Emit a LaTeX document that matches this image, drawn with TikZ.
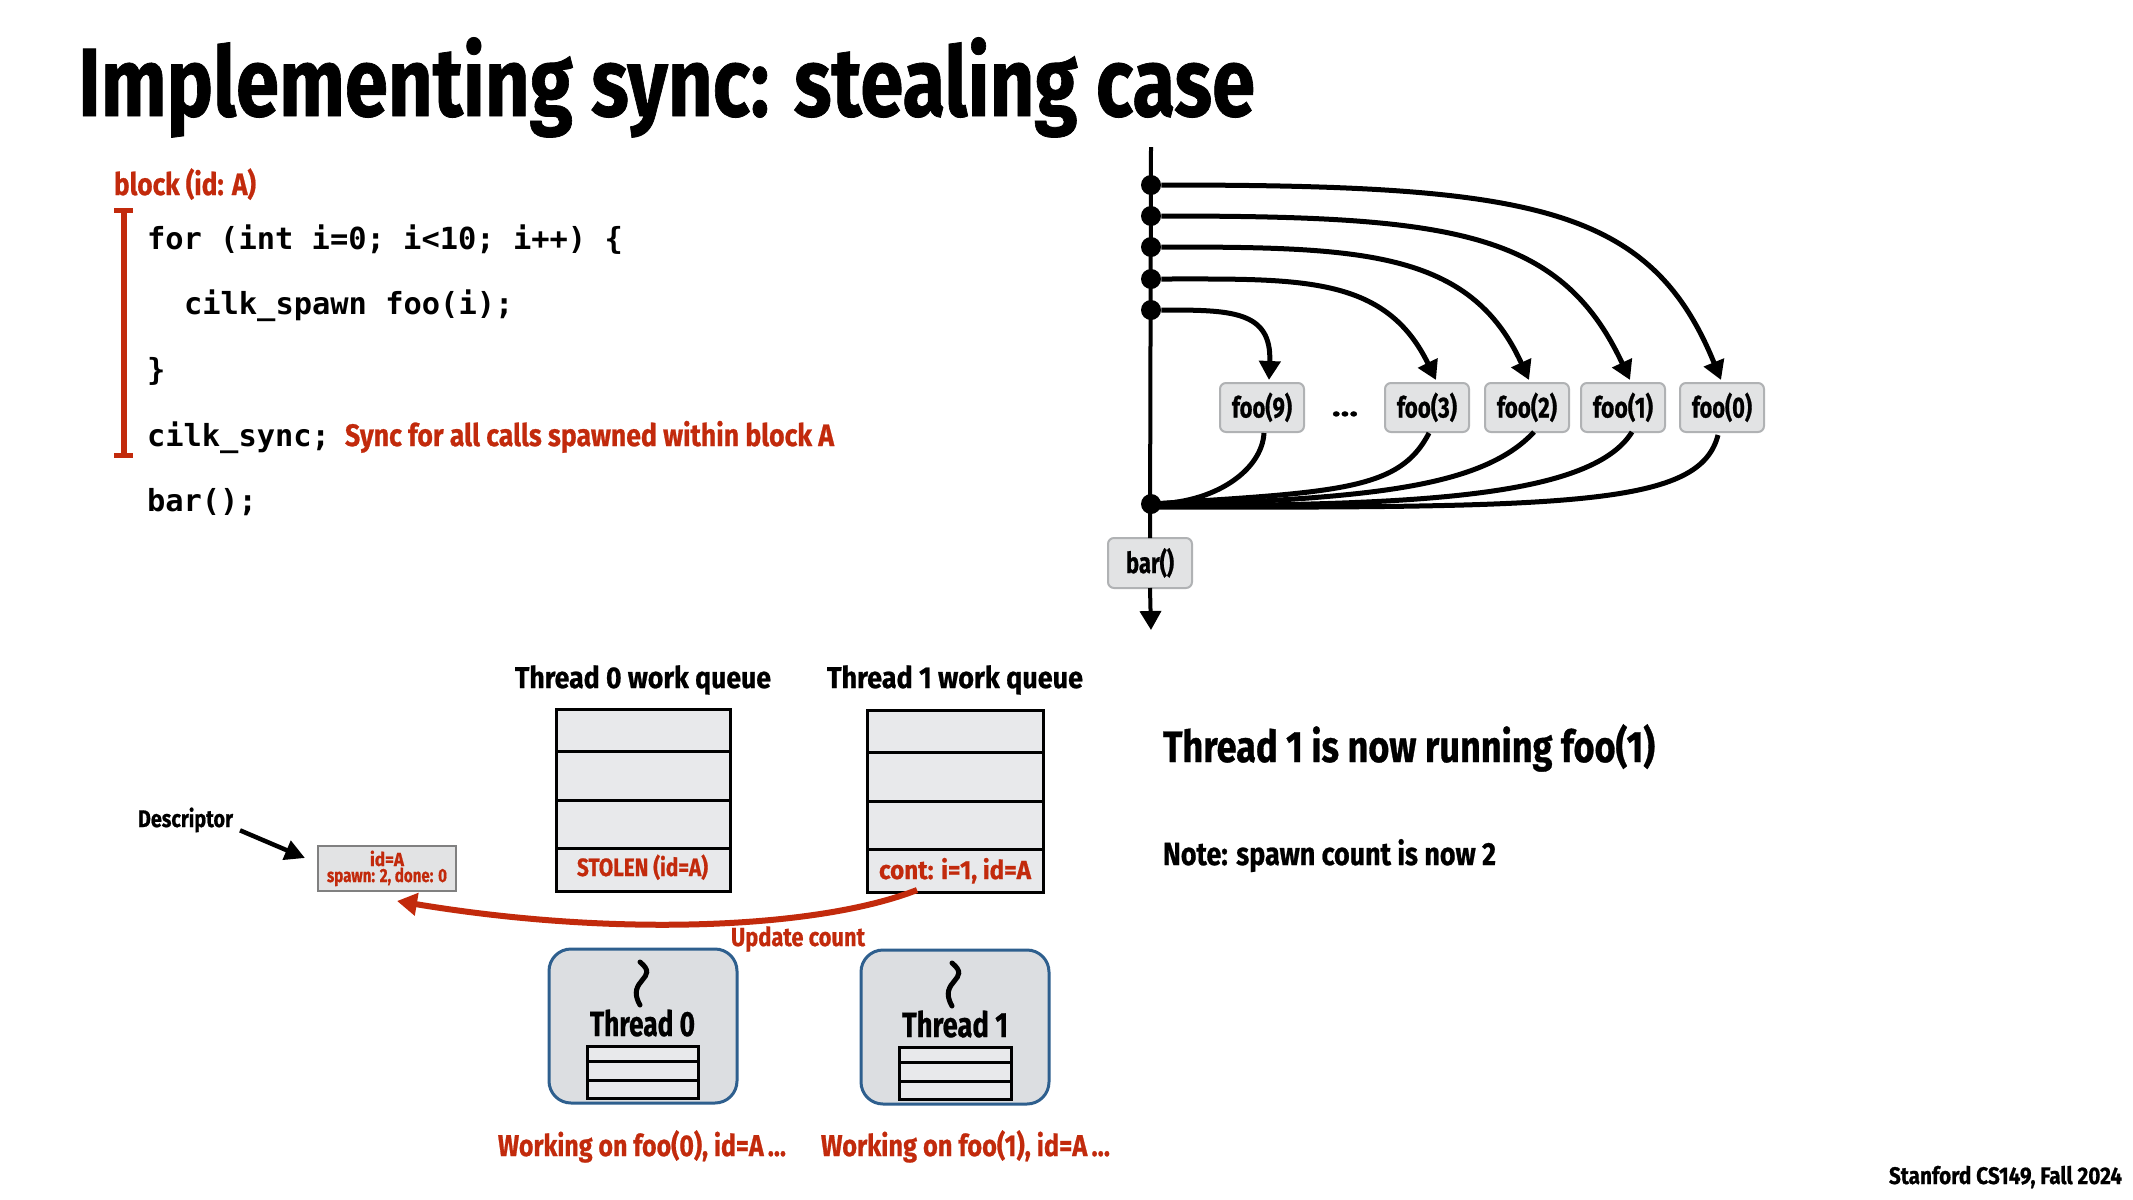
\documentclass[tikz,border=0pt]{standalone}
\usepackage{fontspec}
\usepackage{graphicx}
\setmainfont{Fira Sans}[BoldFont={Fira Sans Bold},BoldFeatures={FakeBold=0.8}]
\newfontfamily\codefont{DejaVu Sans Mono Bold}
\usetikzlibrary{arrows.meta}
\newdimen\pxu \pxu=0.5pt
% #1 target width in px, #2 font size in px, #3 text
\newcommand\fitw[3]{\resizebox{#1\pxu}{\height}{\fontsize{#2\pxu}{#2\pxu}\selectfont\bfseries #3}}
\definecolor{slidered}{HTML}{C22A0C}
\definecolor{qfill}{HTML}{E8E9EB}
\definecolor{tfill}{HTML}{DCDEE1}
\definecolor{tblue}{HTML}{2E5F8E}
\definecolor{boxfill}{HTML}{E2E3E4}
\definecolor{boxedge}{HTML}{B0B2B4}
\tikzset{
  txt/.style={anchor=base west,inner sep=0pt,outer sep=0pt},
  redtxt/.style={txt,text=slidered},
  ctxt/.style={anchor=base,inner sep=0pt,outer sep=0pt},
  code/.style={txt,font=\codefont\fontsize{15.2pt}{15.2pt}\selectfont},
  dot/.style={circle,fill=black,inner sep=0pt,minimum size=10pt},
  task/.style={draw=boxedge,line width=1pt,fill=boxfill,rounded corners=3pt,inner sep=0pt,outer sep=0pt,anchor=north west},
  cell/.style={draw=black,line width=1.5pt,fill=qfill,inner sep=0pt,outer sep=0pt,anchor=north west},
  edge/.style={line width=2.5pt,black},
  spawn/.style={edge,-{Triangle[length=9.5pt,width=10.5pt]}},
  thr/.style={draw=tblue,line width=1.5pt,fill=tfill,rounded corners=11pt,inner sep=0pt,outer sep=0pt,anchor=north west},
}
\newcommand\qcell[5]{\node[cell,minimum width=#3*0.5pt,minimum height=#4*0.5pt] (#5) at (#1,#2) {};}
\begin{document}
\begin{tikzpicture}[x=0.5pt,y=-0.5pt]
\useasboundingbox (0,0) rectangle (2133,1200);
\fill[white] (0,0) rectangle (2133,1200);

% title
\node[txt] (title) at (78,116) {\fitw{1177}{97}{Implementing sync: stealing case}};

% code
\node[redtxt] (blk) at (114,195) {\fitw{142}{31}{block (id: A)}};
\coordinate (brt) at (123.5,210);
\coordinate (brb) at (123.5,455);
\draw[slidered,line width=3pt] (brt) -- (brb);
\draw[slidered,line width=2.5pt] ([xshift=-4.75pt]brt) -- ([xshift=4.75pt]brt);
\draw[slidered,line width=2.5pt] ([xshift=-4.75pt]brb) -- ([xshift=4.75pt]brb);
\node[code] (c1) at (147,249) {for (int i=0; i<10; i++) \{};
\node[code] (c2) at (184,314) {cilk\_spawn foo(i);};
\node[code] (c3) at (147,380) {\}};
\node[code] (c4) at (147,446) {cilk\_sync;};
\node[code] (c5) at (147,511) {bar();};
\node[redtxt] (synct) at (345,446) {\fitw{489}{31}{Sync for all calls spawned within block A}};

% DAG
\node[dot] (d0) at (1151,185) {};
\node[dot] (d1) at (1151,216) {};
\node[dot] (d2) at (1151,247) {};
\node[dot] (d3) at (1151,279) {};
\node[dot] (d4) at (1151,310) {};
\node[dot] (j) at (1151,504) {};
\node[task,minimum width=42pt,minimum height=24.5pt] (foo9) at (1220,383) {};
\node[task,minimum width=42pt,minimum height=24.5pt] (foo3) at (1385,383) {};
\node[task,minimum width=42pt,minimum height=24.5pt] (foo2) at (1485,383) {};
\node[task,minimum width=42pt,minimum height=24.5pt] (foo1) at (1581,383) {};
\node[task,minimum width=42pt,minimum height=24.5pt] (foo0) at (1680,383) {};
\node[task,minimum width=42pt,minimum height=25pt] (bar) at (1108,538) {};
\node[ctxt] (l9) at (foo9.center) [yshift=-5pt] {\fitw{60}{29}{foo(9)}};
\node[ctxt] (l3) at (foo3.center) [yshift=-5pt] {\fitw{60}{29}{foo(3)}};
\node[ctxt] (l2) at (foo2.center) [yshift=-5pt] {\fitw{60}{29}{foo(2)}};
\node[ctxt] (l1) at (foo1.center) [yshift=-5pt] {\fitw{60}{29}{foo(1)}};
\node[ctxt] (l0) at (foo0.center) [yshift=-5pt] {\fitw{60}{29}{foo(0)}};
\node[ctxt] (lb) at (bar.center) [yshift=-5pt] {\fitw{48}{29}{bar()}};
\node[ctxt] (dots) at (1345,416) {\fitw{26}{28}{\ldots}};
\coordinate (top) at (1151,147);
\coordinate (end) at (1151,630);
\draw[line width=2pt] (top) -- (bar.north);
\draw[line width=2pt,-{Triangle[length=9.5pt,width=10.5pt]}] (bar.south) -- (end);
\draw[spawn] (d0) .. controls (1530,185) and (1650,205) .. ([shift={(-1,-3)}]foo0.north);
\draw[spawn] (d1) .. controls (1450,216) and (1560,230) .. ([shift={(7,-3)}]foo1.north);
\draw[spawn] (d2) .. controls (1360,247) and (1470,250) .. ([shift={(2,-3)}]foo2.north);
\draw[spawn] (d3) .. controls (1300,279) and (1385,275) .. ([shift={(9,-3)}]foo3.north);
\draw[spawn] (d4) .. controls (1230,310) and (1272,310) .. ([shift={(7,-3)}]foo9.north);
\draw[edge] ([shift={(2,1)}]foo9.south) .. controls (1262,470) and (1215,504) .. (j.center);
\draw[edge] ([shift={(2,1)}]foo3.south) .. controls (1400,490) and (1340,492) .. (j.center);
\draw[edge] ([shift={(7,0)}]foo2.south) .. controls (1480,490) and (1360,498) .. ([yshift=-1pt]j.center);
\draw[edge] ([shift={(9,0)}]foo1.south) .. controls (1590,500) and (1400,505) .. ([yshift=-1pt]j.center);
\draw[edge] ([shift={(-4,3)}]foo0.south) .. controls (1700,505) and (1580,508) .. ([yshift=-1.5pt]j.center);

% queues
\node[ctxt] (q0t) at (643,688) {\fitw{256}{30}{Thread 0 work queue}};
\node[ctxt] (q1t) at (955,688) {\fitw{256}{30}{Thread 1 work queue}};
\qcell{556}{709}{174}{42}{a1}
\qcell{556}{751}{174}{49}{a2}
\qcell{556}{800}{174}{48}{a3}
\qcell{556}{848}{174}{43}{a4}
\qcell{867}{710}{176}{42}{b1}
\qcell{867}{752}{176}{49}{b2}
\qcell{867}{801}{176}{48}{b3}
\qcell{867}{849}{176}{43}{b4}
\node[redtxt,ctxt] (st) at (642.5,876) {\fitw{131}{25}{STOLEN (id=A)}};
\node[redtxt,ctxt] (ct) at (955,879) {\fitw{152}{26}{cont: i=1, id=A}};

% descriptor
\node[txt] (desc) at (138,827) {\fitw{95}{24}{Descriptor}};
\node[draw=gray,line width=1.25pt,fill=boxfill,inner sep=0pt,outer sep=0pt,anchor=north west,minimum width=69pt,minimum height=22.5pt] (dbox) at (318,846) {};
\node[redtxt,ctxt] (d1t) at (387,866) {\fitw{34}{19}{id=A}};
\node[redtxt,ctxt] (d2t) at (387,882) {\fitw{120}{19}{spawn: 2, done: 0}};
\draw[line width=2.25pt,-{Triangle[length=10pt,width=10pt]}] ([shift={(7,-2)}]desc.south east) -- ([shift={(-13,12)}]dbox.north west);

% update
\draw[slidered,line width=3pt,-{Triangle[length=10pt,width=11pt]}] ([shift={(-38,-2)}]b4.south) .. controls (820,928) and (620,938) .. ([shift={(10,10)}]dbox.south);
\node[redtxt] (upd) at (731,946) {\fitw{134}{26}{Update count}};

% threads
\node[thr,minimum width=94pt,minimum height=77pt] (t0) at (549,949) {};
\node[thr,minimum width=94pt,minimum height=77pt] (t1) at (861,950) {};
\draw[line width=2.5pt,line cap=round] ([shift={(-3,13)}]t0.north) .. controls ([shift={(18,30)}]t0.north) and ([shift={(-18,30)}]t0.north) .. ([shift={(-3,56)}]t0.north);
\draw[line width=2.5pt,line cap=round] ([shift={(-3,13)}]t1.north) .. controls ([shift={(18,30)}]t1.north) and ([shift={(-18,30)}]t1.north) .. ([shift={(-3,56)}]t1.north);
\node[ctxt] (t0l) at (642.5,1036) {\fitw{105}{35}{Thread 0}};
\node[ctxt] (t1l) at (955,1037) {\fitw{106}{35}{Thread 1}};
\qcell{587}{1046}{111}{15}{m1}
\qcell{587}{1061}{111}{19}{m2}
\qcell{587}{1080}{111}{18}{m3}
\qcell{899}{1047}{112}{15}{n1}
\qcell{899}{1062}{112}{19}{n2}
\qcell{899}{1081}{112}{18}{n3}
\node[redtxt] (w0) at (498,1156) {\fitw{288}{30}{Working on foo(0), id=A\,\ldots}};
\node[redtxt] (w1) at (821,1156) {\fitw{289}{30}{Working on foo(1), id=A\,\ldots}};

% right text
\node[txt] (rt) at (1163,762) {\fitw{492}{44}{Thread 1 is now running foo(1)}};
\node[txt] (nt) at (1163,865) {\fitw{333}{32}{Note: spawn count is now 2}};
\node[txt] (ft) at (1889,1184) {\fitw{233}{24}{Stanford CS149, Fall 2024}};
\end{tikzpicture}
\end{document}
